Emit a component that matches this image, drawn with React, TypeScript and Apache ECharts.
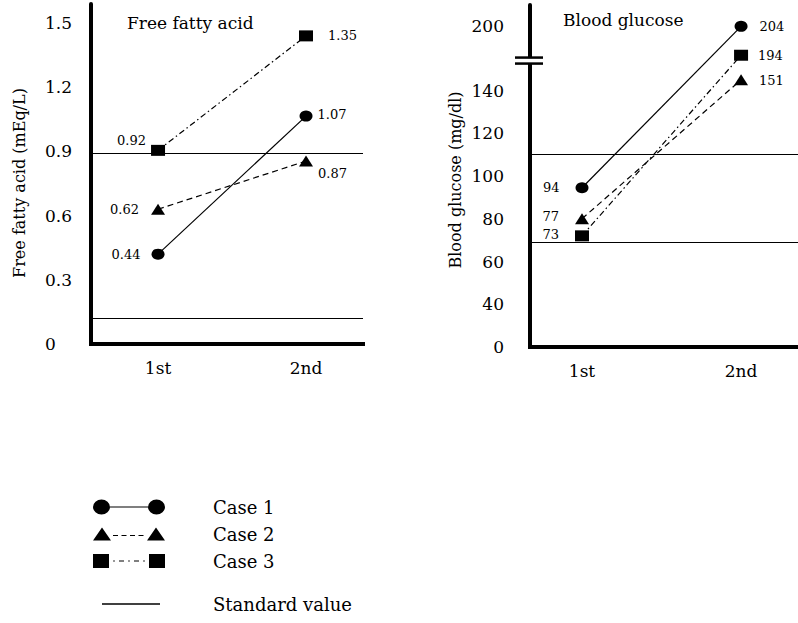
import React, { useEffect, useRef } from 'react';
import * as echarts from 'echarts';

// ---------- data ----------
const visits = ['1st', '2nd'];
const visitPositions = [1, 2];

const caseNames = ['Case 1', 'Case 2', 'Case 3'];
const standardName = 'Standard value';

const ffaCase1 = [0.42, 1.065];
const ffaCase2 = [0.63, 0.855];
const ffaCase3 = [0.905, 1.44];
const ffaLabels1 = ['0.44', '1.07'];
const ffaLabels2 = ['0.62', '0.87'];
const ffaLabels3 = ['0.92', '1.35'];
const ffaStandard = [0.115, 0.89];
const ffaTicks = [0, 0.3, 0.6, 0.9, 1.2, 1.5];

const glucoseCase1 = [94.5, 200];
const glucoseCase2 = [80, 150];
const glucoseCase3 = [72, 173];
const glucoseLabels1 = ['94', '204'];
const glucoseLabels2 = ['77', '151'];
const glucoseLabels3 = ['73', '194'];
const glucoseStandard = [69, 110];
const glucoseTicks = [0, 40, 60, 80, 100, 120, 140, 200];

// ---------- helpers ----------
const FONT = 'DejaVu Serif';

// broken glucose axis: 0-40 and each 20 up to 140 take one slot, above the break 40 per slot
function glucoseToAxis(v: number): number {
  if (v <= 40) return v / 40;
  if (v <= 140) return 1 + (v - 40) / 20;
  return 6 + (v - 140) / 40;
}
const glucoseBreak = 6.7;

const identity = (v: number) => v;

const symbols = ['circle', 'triangle', 'rect'];
const symbolSizes = [
  [13, 11],
  [14, 11],
  [14, 11],
];
const lineTypes: any[] = ['solid', [6, 4], [6, 3, 1.5, 3]];

function xLabel(v: number) {
  for (let i = 0; i < visitPositions.length; i++) {
    if (Math.abs(v - visitPositions[i]) < 1e-6) return visits[i];
  }
  return '';
}

function caseSeries(
  idx: number,
  values: number[],
  labels: string[],
  axisIndex: number,
  map: (v: number) => number,
  placements: any[]
) {
  return {
    type: 'line',
    name: caseNames[idx],
    xAxisIndex: axisIndex,
    yAxisIndex: axisIndex,
    symbol: symbols[idx],
    symbolSize: symbolSizes[idx],
    lineStyle: { color: '#000', width: 1.2, type: lineTypes[idx] },
    itemStyle: { color: '#000', borderWidth: 0 },
    label: { show: true, fontFamily: FONT, fontSize: 13, color: '#000' },
    data: values.map((v, i) => ({
      value: [visitPositions[i], map(v)],
      label: { formatter: labels[i], ...placements[i] },
    })),
    z: 3,
  };
}

function standardSeries(axisIndex: number, values: number[], map: (v: number) => number) {
  return {
    type: 'line',
    name: standardName,
    xAxisIndex: axisIndex,
    yAxisIndex: axisIndex,
    data: [],
    lineStyle: { color: '#000', width: 1 },
    itemStyle: { color: '#000' },
    markLine: {
      silent: true,
      symbol: 'none',
      label: { show: false },
      lineStyle: { color: '#000', width: 1, type: 'solid' },
      data: values.map((v) => ({ yAxis: map(v) })),
    },
  };
}

// legend icons (72 wide)
const icon1 =
  'path://M0,7.5A8.5,7.5,0,1,1,17,7.5A8.5,7.5,0,1,1,0,7.5Z M17,6.9H55V8.1H17Z M55,7.5A8.5,7.5,0,1,1,72,7.5A8.5,7.5,0,1,1,55,7.5Z';
const icon2 =
  'path://M0,13L9,0L18,13Z M54,13L63,0L72,13Z M20,7.4H25V8.6H20Z M28.5,7.4H33.5V8.6H28.5Z M37,7.4H42V8.6H37Z M45.5,7.4H50.5V8.6H45.5Z';
const icon3 =
  'path://M0,0H16V14H0Z M56,0H72V14H56Z M20.2,6.4H21.8V7.6H20.2Z M26,6.4H31V7.6H26Z M35.2,6.4H36.8V7.6H35.2Z M41,6.4H46V7.6H41Z M50.2,6.4H51.8V7.6H50.2Z';
const iconStd = 'path://M0,0H58V1.5H0Z';

export default function App() {
  const ref = useRef<HTMLDivElement>(null);

  useEffect(() => {
    if (!ref.current) return;
    const chart = echarts.init(ref.current, null, { renderer: 'svg' });

    const axisLineStyle = { color: '#000', width: 4 };
    const labelText = { fontFamily: FONT, fontSize: 17, color: '#000' };

    const ffaXMin = 0.547;
    const ffaXMax = 2.385;
    const gluXMin = 0.673;
    const gluXMax = 2.358;

    const option: any = {
      animation: false,
      backgroundColor: '#fff',
      textStyle: { fontFamily: FONT },
      title: [
        {
          text: 'Free fatty acid',
          left: 127,
          top: 14,
          padding: 0,
          textStyle: { ...labelText, fontWeight: 'normal' },
        },
        {
          text: 'Blood glucose',
          left: 563,
          top: 11,
          padding: 0,
          textStyle: { ...labelText, fontWeight: 'normal' },
        },
      ],
      grid: [
        { left: 91, right: 798 - 363, top: 4, bottom: 623 - 344 },
        { left: 530, right: 0, top: 5, bottom: 623 - 347 },
      ],
      xAxis: [
        {
          gridIndex: 0,
          type: 'value',
          min: ffaXMin,
          max: ffaXMax,
          splitNumber: 2,
          axisLine: { lineStyle: { ...axisLineStyle, cap: 'square' } },
          axisTick: { show: false },
          splitLine: { show: false },
          axisLabel: { ...labelText, margin: 15, formatter: xLabel, showMinLabel: false, showMaxLabel: false },
        },
        {
          gridIndex: 1,
          type: 'value',
          min: gluXMin,
          max: gluXMax,
          splitNumber: 2,
          axisLine: { lineStyle: { ...axisLineStyle, cap: 'square' } },
          axisTick: { show: false },
          splitLine: { show: false },
          axisLabel: { ...labelText, margin: 15, formatter: xLabel, showMinLabel: false, showMaxLabel: false },
        },
      ],
      yAxis: [
        {
          gridIndex: 0,
          type: 'value',
          min: 0,
          max: 1.589,
          interval: 0.3,
          name: 'Free fatty acid (mEq/L)',
          nameLocation: 'middle',
          nameGap: 64,
          nameTextStyle: { fontFamily: FONT, fontSize: 16, color: '#000', padding: [0, 18, 0, 0] },
          axisLine: { show: true, lineStyle: axisLineStyle },
          axisTick: { show: false },
          splitLine: { show: false },
          axisLabel: {
            ...labelText,
            align: 'left',
            margin: 46,
            showMaxLabel: false,
            formatter: (v: number) => {
              const t = ffaTicks.find((k) => Math.abs(k - v) < 1e-6);
              if (t === undefined) return '';
              return t === 0 ? '0' : t.toFixed(1);
            },
          },
        },
        {
          gridIndex: 1,
          type: 'value',
          min: 0,
          max: 8,
          interval: 0.5,
          name: 'Blood glucose (mg/dl)',
          nameLocation: 'middle',
          nameGap: 67,
          nameTextStyle: { fontFamily: FONT, fontSize: 16, color: '#000', padding: [0, 8, 0, 0] },
          axisLine: { show: true, lineStyle: axisLineStyle },
          axisTick: { show: false },
          splitLine: { show: false },
          axisLabel: {
            ...labelText,
            margin: 26,
            showMaxLabel: false,
            formatter: (v: number) => {
              const t = glucoseTicks.find((k) => Math.abs(glucoseToAxis(k) - v) < 1e-6);
              return t === undefined ? '' : String(t);
            },
          },
        },
      ],
      legend: [
        {
          orient: 'vertical',
          left: 93,
          top: 498,
          padding: 0,
          itemGap: 9,
          itemWidth: 72,
          itemHeight: 17,
          selectedMode: false,
          itemStyle: { borderWidth: 0 },
          textStyle: { fontFamily: FONT, fontSize: 18, color: '#000', padding: [0, 0, 0, 43] },
          data: [
            { name: caseNames[0], icon: icon1 },
            { name: caseNames[1], icon: icon2 },
            { name: caseNames[2], icon: icon3 },
          ],
        },
        {
          orient: 'vertical',
          left: 102,
          top: 595,
          padding: 0,
          itemWidth: 58,
          itemHeight: 17,
          selectedMode: false,
          itemStyle: { borderWidth: 0 },
          textStyle: { fontFamily: FONT, fontSize: 18, color: '#000', padding: [0, 0, 0, 48] },
          data: [{ name: standardName, icon: iconStd }],
        },
      ],
      series: [
        standardSeries(0, ffaStandard, identity),
        standardSeries(1, glucoseStandard, glucoseToAxis),
        caseSeries(0, ffaCase1, ffaLabels1, 0, identity, [
          { position: 'left', offset: [-6, 0] },
          { position: 'right', offset: [0, -2] },
        ]),
        caseSeries(1, ffaCase2, ffaLabels2, 0, identity, [
          { position: 'left', offset: [-7, 0] },
          { position: 'right', offset: [0, 12] },
        ]),
        caseSeries(2, ffaCase3, ffaLabels3, 0, identity, [
          { position: 'left', offset: [0, -10] },
          { position: 'right', offset: [10, 0] },
        ]),
        caseSeries(0, glucoseCase1, glucoseLabels1, 1, glucoseToAxis, [
          { position: 'left', offset: [-11, 0] },
          { position: 'right', offset: [7, 0] },
        ]),
        caseSeries(1, glucoseCase2, glucoseLabels2, 1, glucoseToAxis, [
          { position: 'left', offset: [-11, -2] },
          { position: 'right', offset: [6, 1] },
        ]),
        caseSeries(2, glucoseCase3, glucoseLabels3, 1, glucoseToAxis, [
          { position: 'left', offset: [-11, -1] },
          { position: 'right', offset: [5, 0] },
        ]),
      ],
    };

    chart.setOption(option);

    // axis break marks on the glucose axis
    const p = chart.convertToPixel({ gridIndex: 1 }, [gluXMin, glucoseBreak]) as number[];
    if (p) {
      const [bx, by] = p;
      chart.setOption({
        graphic: [
          {
            type: 'rect',
            shape: { x: bx - 4, y: by - 2.5, width: 8, height: 5 },
            style: { fill: '#fff' },
            z: 100,
          },
          {
            type: 'line',
            shape: { x1: bx - 15, y1: by - 3, x2: bx + 13, y2: by - 3 },
            style: { stroke: '#000', lineWidth: 2.5 },
            z: 101,
          },
          {
            type: 'line',
            shape: { x1: bx - 15, y1: by + 3, x2: bx + 13, y2: by + 3 },
            style: { stroke: '#000', lineWidth: 2.5 },
            z: 101,
          },
        ],
      });
    }

    return () => chart.dispose();
  }, []);

  return (
    <div
      ref={ref}
      style={{ position: 'fixed', left: 0, top: 0, width: 798, height: 623, background: '#fff' }}
    />
  );
}
